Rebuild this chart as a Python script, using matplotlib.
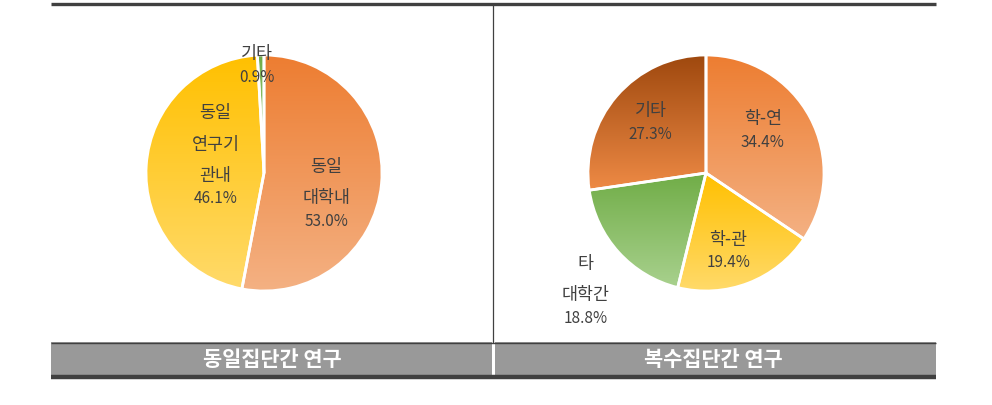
import matplotlib.pyplot as plt
import matplotlib.colors as mcolors
import numpy as np

plt.rcParams['font.family'] = ['Noto Sans CJK KR', 'DejaVu Sans']

# left pie: 동일집단간 연구
left_labels = ["동일\n대학내", "동일\n연구기\n관내", "기타"]
left_values = [53.0, 46.1, 0.9]
# right pie: 복수집단간 연구
right_labels = ["학-연", "학-관", "타\n대학간", "기타"]
right_values = [34.4, 19.4, 18.8, 27.3]
titles = ["동일집단간 연구", "복수집단간 연구"]

# gradient (top, bottom) colours
orange = ("#ED7D31", "#F4B183")
yellow = ("#FFC000", "#FFDA6A")
green = ("#70AD47", "#A9D18E")
brown = ("#9E480E", "#EE8A45")
left_colors = [orange, yellow, green]
right_colors = [orange, yellow, green, brown]

# percentage label positions (in pie radius units); names sit above
left_pos = [(0.53, -0.41), (-0.41, -0.22), (-0.06, 0.81)]
right_pos = [(0.48, 0.26), (0.19, -0.76), (-1.02, -1.23), (-0.47, 0.33)]

W, H = 992, 405
fig = plt.figure(figsize=(W / 100, H / 100), dpi=100)

# frame in pixel coords
bg = fig.add_axes([0, 0, 1, 1])
bg.set_xlim(0, W)
bg.set_ylim(H, 0)
bg.axis('off')
dark = "#404040"
bg.plot([51, 936], [3.5, 3.5], color=dark, lw=2.4, solid_capstyle='butt')
bg.plot([493, 493], [5, 342], color=dark, lw=0.9)
bg.add_patch(plt.Rectangle((51, 342), 885, 34, facecolor="#999999", edgecolor='none'))
bg.plot([51, 936], [342.5, 342.5], color=dark, lw=1.0, solid_capstyle='butt')
bg.plot([51, 936], [376.5, 376.5], color=dark, lw=3.2, solid_capstyle='butt')
bg.add_patch(plt.Rectangle((491.8, 341), 2.8, 34, facecolor="white", edgecolor='none'))
for cx, t in zip([272, 713], titles):
    bg.text(cx, 359, t, color="white", fontsize=15, fontweight='bold',
            ha='center', va='center')

R = 118.0


def draw_pie(cx, x0, x1, values, labels, colors, pos):
    # axes in pixel box, with 1 data unit = R px, pie centred at (cx, 173)
    cy = 173
    ax = fig.add_axes([x0 / W, 1 - 342 / H, (x1 - x0) / W, (342 - 3) / H])
    ax.axis('off')
    wedges, _ = ax.pie(values, startangle=90, counterclock=False, radius=1,
                       wedgeprops=dict(edgecolor='white', linewidth=2.0, facecolor='none'))
    ax.set_aspect('auto')
    for w, (top, bot) in zip(wedges, colors):
        ext = w.get_path().get_extents()
        cmap = mcolors.LinearSegmentedColormap.from_list("g", [bot, top])
        grad = np.linspace(0, 1, 256).reshape(-1, 1)
        im = ax.imshow(grad, cmap=cmap, origin='lower', aspect='auto',
                       extent=[ext.x0, ext.x1, ext.y0, ext.y1], zorder=0.5)
        im.set_clip_path(w)
        w.set_zorder(1)
    ax.set_xlim((x0 - cx) / R, (x1 - cx) / R)
    ax.set_ylim((cy - 342) / R, (cy - 3) / R)
    for v, lab, (px, py) in zip(values, labels, pos):
        ax.text(px, py, f"{v:.1f}%", ha='center', va='center',
                fontsize=11, color="#404040", zorder=3)
        ax.annotate(lab, xy=(px, py), xytext=(0, 14), textcoords='offset pixels',
                    ha='center', va='bottom', fontsize=12.5, color="#404040",
                    linespacing=1.95, zorder=3)


draw_pie(264, 51, 493, left_values, left_labels, left_colors, left_pos)
draw_pie(706, 493, 936, right_values, right_labels, right_colors, right_pos)

fig.savefig("out.png", dpi=100)
